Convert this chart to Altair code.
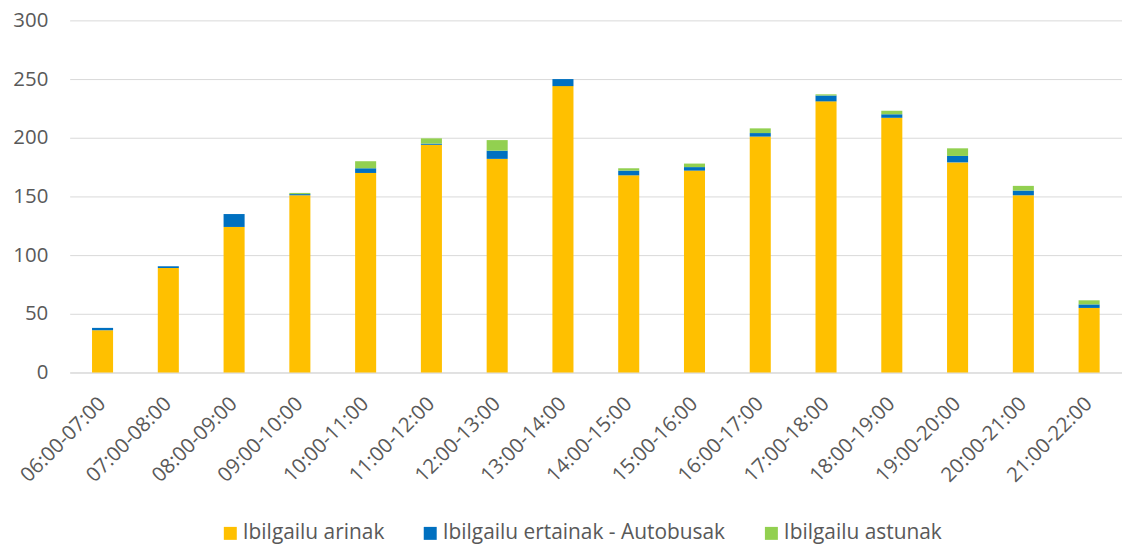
import altair as alt
import pandas as pd

hours = ["06:00-07:00", "07:00-08:00", "08:00-09:00", "09:00-10:00", "10:00-11:00",
         "11:00-12:00", "12:00-13:00", "13:00-14:00", "14:00-15:00", "15:00-16:00",
         "16:00-17:00", "17:00-18:00", "18:00-19:00", "19:00-20:00", "20:00-21:00",
         "21:00-22:00"]
arinak = [36, 89, 124, 151, 170, 194, 182, 244, 168, 172, 201, 231, 217, 179, 151, 55]
ertainak = [2, 1.5, 11, 1, 4, 1, 7, 6, 4, 3, 3, 5, 3, 5.5, 4, 3]
astunak = [0, 0, 0, 1, 6, 4.5, 9, 0, 2, 3, 4, 1, 3, 6.5, 4, 3.5]

series = ["Ibilgailu arinak", "Ibilgailu ertainak - Autobusak", "Ibilgailu astunak"]
colors = ["#FFC000", "#0070C0", "#92D050"]

rows = []
for i, h in enumerate(hours):
    for k, (name, vals) in enumerate(zip(series, [arinak, ertainak, astunak])):
        rows.append({"hour": h, "series": name, "value": vals[i], "order": k})
df = pd.DataFrame(rows)

font = "Open Sans"
chart = alt.Chart(df).mark_bar().encode(
    x=alt.X("hour:N", sort=hours, title=None,
            scale=alt.Scale(paddingInner=0.68, paddingOuter=0.34),
            axis=alt.Axis(labelAngle=-45, labelAlign="right", labelBaseline="middle",
                          labelFontSize=20.5, labelColor="#595959", labelFont=font,
                          ticks=False, domainColor="#d9d9d9", labelPadding=28)),
    y=alt.Y("value:Q", stack="zero", title=None,
            scale=alt.Scale(domain=[0, 300], nice=False),
            axis=alt.Axis(values=[0, 50, 100, 150, 200, 250, 300], domain=False, ticks=False,
                          labelFontSize=20.5, labelColor="#595959", labelFont=font,
                          labelPadding=22, gridColor="#d9d9d9", gridWidth=1)),
    color=alt.Color("series:N", sort=series,
                    scale=alt.Scale(domain=series, range=colors),
                    legend=alt.Legend(orient="none", legendX=151, legendY=505,
                                      direction="horizontal", title=None,
                                      symbolType="square", symbolSize=170, symbolStrokeWidth=0,
                                      labelFontSize=21, labelColor="#595959", labelFont=font,
                                      labelLimit=0, labelOffset=2, columnPadding=35)),
    order=alt.Order("order:Q"),
).properties(
    width=1058, height=354,
    padding={"left": 62, "top": 11, "right": 0, "bottom": 174},
    autosize=alt.AutoSizeParams(type="none"),
).configure_view(stroke=None)

chart.save("out.html", embed_options={"renderer": "svg", "actions": False})
